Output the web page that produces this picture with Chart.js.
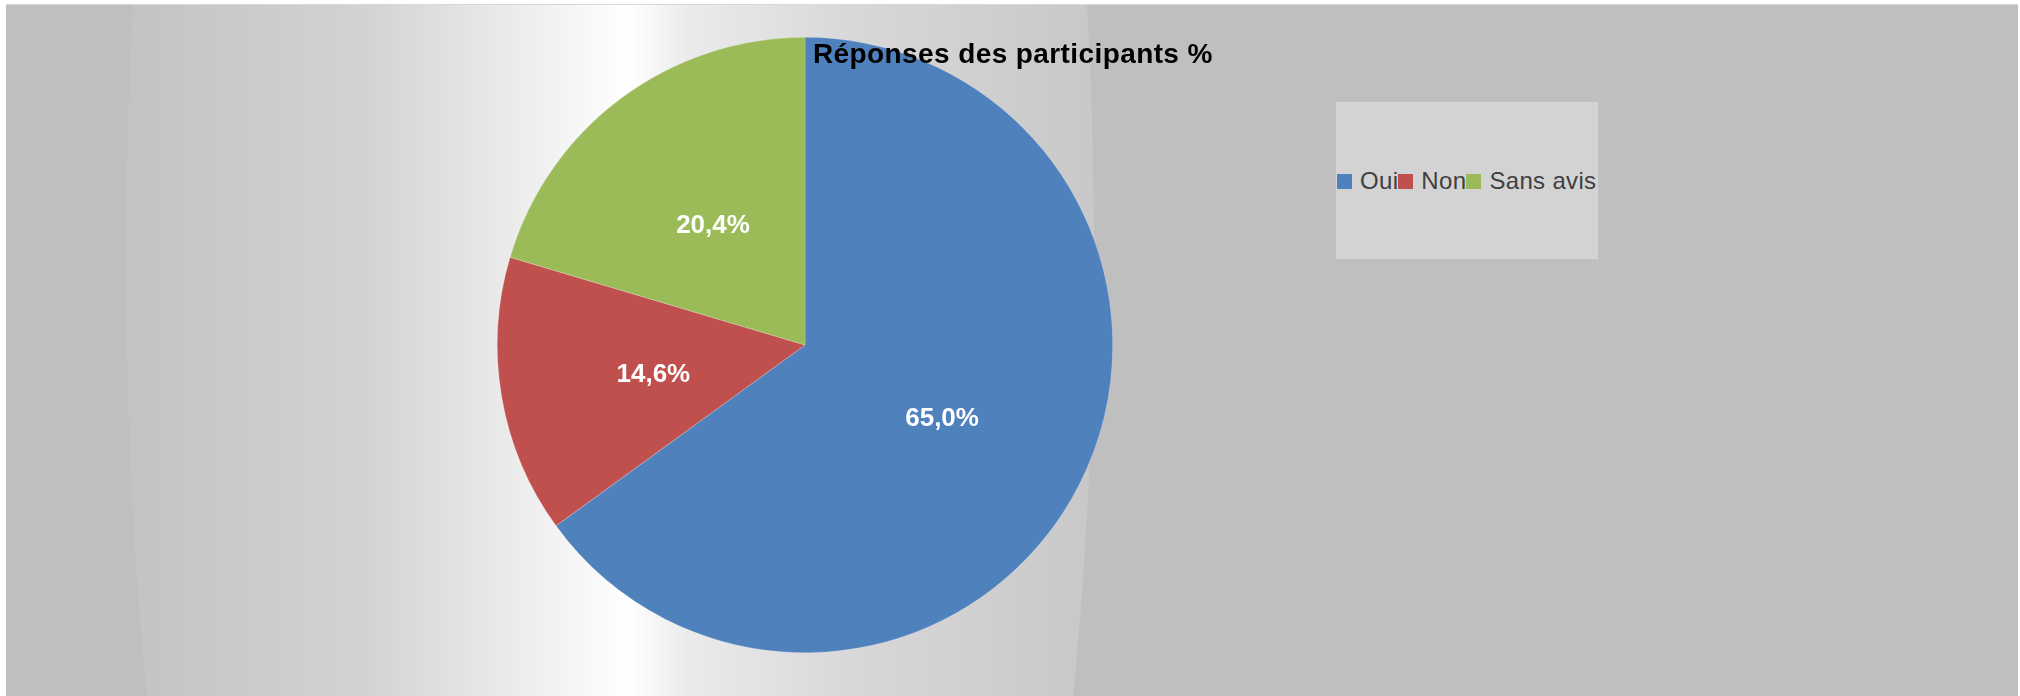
<!DOCTYPE html>
<html lang="fr">
<head>
<meta charset="utf-8">
<title>Réponses des participants %</title>
<script src="https://cdn.jsdelivr.net/npm/chart.js@4.4.1/dist/chart.umd.min.js"></script>
<style>
    html, body {
        margin: 0;
        padding: 0;
        background: #ffffff;
    }
    .chart-wrap {
        position: relative;
        width: 2020px;
        height: 696px;
        overflow: hidden;
        font-family: "Liberation Sans", Arial, sans-serif;
    }
    .chart-title {
        position: absolute;
        left: 813px;
        top: 38px;
        font-size: 28px;
        font-weight: bold;
        letter-spacing: 0.4px;
        color: #000000;
        line-height: 32px;
        white-space: nowrap;
    }
    .legend-box {
        position: absolute;
        left: 1336px;
        top: 102px;
        width: 262px;
        height: 157px;
        background: #d3d3d3;
        box-sizing: border-box;
        border: 1px solid #d6d6d6;
        display: flex;
        align-items: center;
    }
    .legend-box ul {
        list-style: none;
        margin: 0;
        padding: 0 0 0 0;
        display: flex;
        align-items: center;
    }
    .legend-box li {
        display: flex;
        align-items: center;
        font-size: 24px;
        letter-spacing: 0.33px;
        color: #3f3f3f;
        white-space: nowrap;
        line-height: 28px;
    }
    .legend-box li span.swatch {
        width: 15px;
        height: 15px;
        margin-right: 8px;
        margin-top: 1px;
    }
</style>
</head>
<body>
<div class="chart-wrap">
    <canvas id="responsesChart" width="2020" height="696"></canvas>
    <div class="chart-title" id="chartTitle"></div>
    <div class="legend-box" id="legendBox"></div>
</div>
<script>
// Data
const title = 'Réponses des participants %';
const categories = ['Oui', 'Non', 'Sans avis'];
const shares = [65.0, 14.6, 20.4];
const sliceColors = ['#4f81bd', '#c0504d', '#9bbb59'];

function formatPercent(v) {
    return v.toFixed(1).replace('.', ',') + '%';
}

// Grey frame with the light vertical band behind the pie
const backgroundPlugin = {
    id: 'frameBackground',
    beforeDraw(chart) {
        const ctx = chart.ctx;
        ctx.save();
        ctx.fillStyle = '#ffffff';
        ctx.fillRect(0, 0, chart.width, chart.height);
        ctx.fillStyle = '#d8d8d8';
        ctx.fillRect(6, 4, 2012, 1);
        ctx.fillStyle = '#bfbfbf';
        ctx.fillRect(6, 5, 2012, chart.height - 5);

        ctx.beginPath();
        ctx.rect(6, 5, 2012, chart.height - 5);
        ctx.clip();
        ctx.beginPath();
        ctx.ellipse(610, 260, 484, 1500, 0, 0, Math.PI * 2);
        const grad = ctx.createLinearGradient(126, 0, 1094, 0);
        grad.addColorStop(0, '#c3c3c3');
        grad.addColorStop(0.25, '#d3d3d3');
        grad.addColorStop(0.5, '#fcfcfc');
        grad.addColorStop(0.52, '#ffffff');
        grad.addColorStop(0.58, '#ebebeb');
        grad.addColorStop(0.75, '#d8d8d8');
        grad.addColorStop(1, '#c8c8c8');
        ctx.fillStyle = grad;
        ctx.fill();
        ctx.restore();
    }
};

// Percent labels in the middle of each slice
const sliceLabelPlugin = {
    id: 'sliceLabels',
    afterDatasetsDraw(chart) {
        const ctx = chart.ctx;
        const meta = chart.getDatasetMeta(0);
        ctx.save();
        ctx.font = 'bold 26px "Liberation Sans", Arial, sans-serif';
        ctx.fillStyle = '#ffffff';
        ctx.textAlign = 'center';
        ctx.textBaseline = 'middle';
        meta.data.forEach((arc, i) => {
            const pos = arc.tooltipPosition();
            ctx.fillText(formatPercent(shares[i]), pos.x, pos.y + 4);
        });
        ctx.restore();
    }
};

const ctx = document.getElementById('responsesChart').getContext('2d');
const responsesChart = new Chart(ctx, {
    type: 'pie',
    data: {
        labels: categories,
        datasets: [{
            data: shares,
            backgroundColor: sliceColors,
            borderColor: 'rgba(255, 255, 255, 0.35)',
            borderWidth: 0.6
        }]
    },
    options: {
        responsive: false,
        animation: false,
        layout: {
            padding: { left: 497, right: 907, top: 37, bottom: 43 }
        },
        plugins: {
            legend: { display: false },
            title: { display: false },
            tooltip: { enabled: false }
        }
    },
    plugins: [backgroundPlugin, sliceLabelPlugin]
});

// Title and legend
document.getElementById('chartTitle').textContent = title;

const legendList = document.createElement('ul');
responsesChart.options.plugins.legend.labels.generateLabels(responsesChart).forEach(item => {
    const li = document.createElement('li');
    const swatch = document.createElement('span');
    swatch.className = 'swatch';
    swatch.style.background = item.fillStyle;
    li.appendChild(swatch);
    li.appendChild(document.createTextNode(item.text));
    legendList.appendChild(li);
});
document.getElementById('legendBox').appendChild(legendList);
</script>
</body>
</html>
